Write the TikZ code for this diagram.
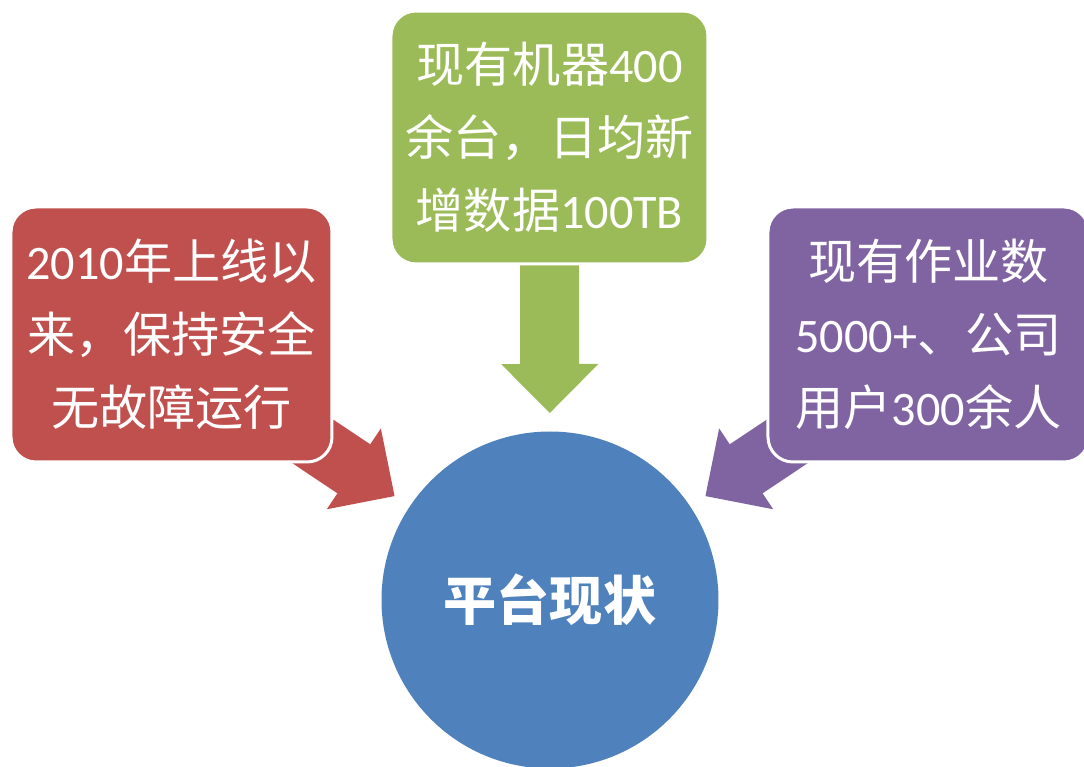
\documentclass[tikz,border=0pt]{standalone}
\usepackage{fontspec}
\setmainfont{Noto Sans CJK SC}
\newfontfamily\latn{Carlito}
\usetikzlibrary{arrows.meta,backgrounds}
\definecolor{boxred}{HTML}{C0504D}
\definecolor{boxgreen}{HTML}{9BBB59}
\definecolor{boxpurple}{HTML}{8064A2}
\definecolor{circleblue}{HTML}{4F81BD}

\begin{document}
\begin{tikzpicture}[
    infobox/.style={rounded corners=0.25cm, draw=white, line width=0.03cm, text=white, align=center,
        minimum width=3.21cm, minimum height=2.55cm, inner sep=0pt,
        font=\fontsize{13.7pt}{20.8pt}\selectfont},
    bigarrow/.style={line width=0.59cm, -{Triangle[length=0.49cm,width=0.97cm,line width=0.4pt]},
        shorten >=1.87cm}]
    \clip (0,0) rectangle (10.84,7.67);

    \node[infobox, fill=boxred] (redbox) at (1.715,4.325) {{\latn 2010}年上线以\\来，保持安全\\无故障运行};
    \node[infobox, fill=boxgreen, minimum width=3.17cm, minimum height=2.53cm] (greenbox) at (5.495,6.295) {现有机器{\latn 400}\\余台，日均新\\增数据{\latn 100TB}};
    \node[infobox, fill=boxpurple] (purplebox) at (9.285,4.325) {现有作业数\\{\latn 5000+}、公司\\用户{\latn 300}余人};
    \node[circle, fill=circleblue, minimum size=3.37cm, inner sep=0pt, text=white,
        font=\fontsize{15.1pt}{18pt}\selectfont\bfseries] (status) at (5.50,1.67) {平台现状};

    \begin{scope}[on background layer]
        \draw[bigarrow, boxgreen] (greenbox.center) -- (status.center);
        \draw[bigarrow, boxred] ([shift={(-0.4,0.35)}]redbox.south east) -- (status.center);
        \draw[bigarrow, boxpurple] ([shift={(0.4,0.35)}]purplebox.south west) -- (status.center);
    \end{scope}
\end{tikzpicture}
\end{document}
